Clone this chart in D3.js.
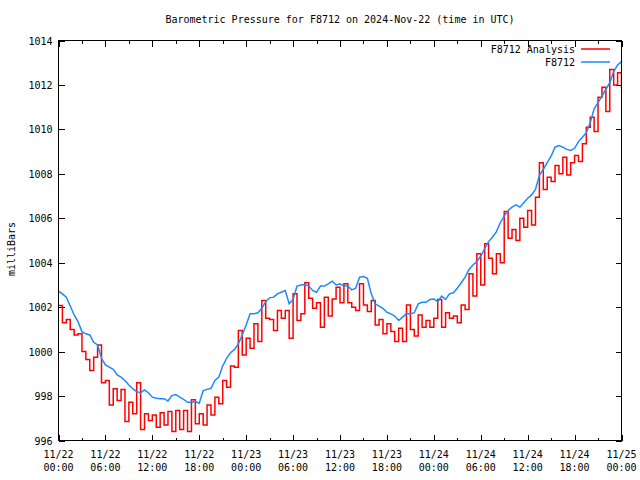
<!DOCTYPE html>
<html><head><meta charset="utf-8">
<script src="https://cdn.jsdelivr.net/npm/d3@7"></script>
<style>body{margin:0;background:#fff}svg{display:block}text{font-family:"DejaVu Sans Mono",monospace;font-size:10px;fill:#000}</style>
</head><body>
<svg id="c" width="640" height="480"></svg>
<script>
// ---- data (half-hourly, starting 2024-11-22 00:00 UTC) ----
const startTime = "2024-11-22T00:00:00Z";
const stepMinutes = 30;
const seriesNames = ["F8712 Analysis", "F8712"];
const analysis = [
1002.07,1001.3,1001.45,1001.0,1000.75,1000.8,1000.0,999.65,999.15,999.75,
1000.3,998.6,998.7,997.6,998.33,997.8,998.3,996.85,997.72,997.2,
998.6,996.5,997.2,996.9,997.15,996.6,997.25,996.7,997.3,996.4,
997.35,996.5,997.35,996.4,997.83,996.75,997.2,996.7,997.6,997.15,
997.95,997.65,998.7,998.4,999.35,999.3,1000.95,999.85,1000.6,1000.15,
1001.25,1000.45,1002.3,1001.5,1001.45,1000.95,1001.85,1001.5,1001.85,1000.6,
1002.6,1001.4,1001.7,1003.1,1002.4,1001.95,1002.2,1001.1,1002.45,1001.6,
1002.37,1002.9,1002.2,1003.05,1002.2,1002.0,1001.85,1003.05,1002.1,1001.8,
1002.3,1001.2,1001.45,1000.8,1001.25,1000.9,1000.45,1001.05,1000.45,1002.1,
1001.0,1000.7,1001.65,1001.1,1001.4,1001.1,1001.5,1002.35,1001.1,1001.75,
1001.5,1001.6,1001.3,1002.1,1001.9,1003.5,1002.5,1004.4,1003.0,1004.85,
1004.2,1003.5,1004.4,1004.0,1006.3,1005.1,1005.5,1005.0,1006.0,1005.6,
1006.35,1005.7,1006.95,1008.5,1007.3,1007.85,1007.65,1008.38,1008.0,1008.75,
1007.95,1008.5,1008.83,1008.55,1009.35,1010.1,1010.55,1009.9,1011.45,1011.9,
1010.8,1012.7,1012.0,1012.55,1011.85
];
const station = [
1002.72,1002.6,1002.45,1002.05,1001.65,1001.35,1000.9,1000.8,1000.75,1000.42,
1000.3,999.7,999.4,999.3,999.2,998.95,998.85,998.7,998.5,998.33,
998.2,998.15,998.28,998.15,997.95,997.9,997.88,997.88,997.78,998.02,
998.07,997.95,997.85,997.72,997.72,997.75,997.68,998.25,998.3,998.35,
998.7,998.85,999.35,999.7,999.95,1000.1,1000.35,1000.75,1001.2,1001.7,
1001.7,1001.75,1001.95,1002.25,1002.42,1002.45,1002.6,1002.67,1002.75,1002.15,
1002.35,1002.95,1003.0,1003.02,1002.95,1002.75,1002.67,1002.95,1002.95,1003.05,
1003.17,1003.0,1003.05,1002.95,1002.95,1002.78,1002.85,1003.35,1003.38,1003.3,
1002.6,1002.15,1002.05,1001.95,1001.77,1001.7,1001.6,1001.4,1001.55,1001.7,
1001.7,1001.75,1002.15,1002.22,1002.22,1002.35,1002.37,1002.25,1002.5,1002.35,
1002.6,1002.65,1002.85,1003.1,1003.35,1003.7,1003.9,1004.05,1004.3,1004.63,
1004.95,1005.15,1005.4,1005.8,1006.1,1006.35,1006.5,1006.6,1006.5,1006.7,
1006.9,1007.05,1007.3,1007.93,1008.2,1008.5,1008.8,1009.2,1009.27,1009.2,
1009.1,1009.05,1009.15,1009.45,1009.65,1009.85,1010.3,1010.93,1011.2,1011.5,
1011.8,1012.1,1012.6,1012.9,1013.05
];
const yTicks = [996, 998, 1000, 1002, 1004, 1006, 1008, 1010, 1012, 1014];
const xTickDates = ["11/22","11/22","11/22","11/22","11/23","11/23","11/23","11/23","11/24","11/24","11/24","11/24","11/25"];
const xTickTimes = ["00:00","06:00","12:00","18:00","00:00","06:00","12:00","18:00","00:00","06:00","12:00","18:00","00:00"];
const titleText = "Barometric Pressure for F8712 on 2024-Nov-22 (time in UTC)";
const yLabel = "milliBars";

// ---- layout ----
const L = 58.5, R = 621.5, T = 40.5, B = 440.5;
const svg = d3.select("#c");
const t0 = new Date(startTime);
const timeAt = i => new Date(t0.getTime() + i * stepMinutes * 60000);
const x = d3.scaleUtc().domain([t0, new Date(t0.getTime() + 72 * 3600000)]).range([L, R]);
const y = d3.scaleLinear().domain([996, 1014]).range([B, T]);

const majorT = xTickTimes.map((_, i) => new Date(t0.getTime() + i * 6 * 3600000));
const minorT = d3.range(12).map(i => new Date(t0.getTime() + (i * 6 + 3) * 3600000));

svg.append("clipPath").attr("id", "clip").append("rect")
  .attr("x", L).attr("y", T).attr("width", R - L).attr("height", B - T);

svg.append("g").attr("transform", `translate(0,${B})`)
  .call(d3.axisBottom(x).tickValues(majorT).tickSizeInner(-6).tickSizeOuter(0).tickFormat(""));
svg.append("g").attr("transform", `translate(0,${B})`)
  .call(d3.axisBottom(x).tickValues(minorT).tickSizeInner(-3).tickSizeOuter(0).tickFormat(""));
svg.append("g").attr("transform", `translate(0,${T})`)
  .call(d3.axisTop(x).tickValues(majorT).tickSizeInner(-6).tickSizeOuter(0).tickFormat(""));
svg.append("g").attr("transform", `translate(0,${T})`)
  .call(d3.axisTop(x).tickValues(minorT).tickSizeInner(-3).tickSizeOuter(0).tickFormat(""));
const gL = svg.append("g").attr("transform", `translate(${L},0)`)
  .call(d3.axisLeft(y).tickValues(yTicks).tickSizeInner(-6).tickSizeOuter(0).tickFormat(d3.format("d")));
svg.append("g").attr("transform", `translate(${R},0)`)
  .call(d3.axisRight(y).tickValues(yTicks).tickSizeInner(-6).tickSizeOuter(0).tickFormat(""));
svg.selectAll(".domain").remove();
svg.selectAll(".tick line").attr("stroke", "#000").attr("shape-rendering", "crispEdges");

gL.selectAll(".tick text").attr("x", -6).attr("dy", "0.35em")
  .style("font-family", "DejaVu Sans Mono").style("font-size", "10px").attr("fill", "#000");

const xl = svg.append("g");
majorT.forEach((d, i) => {
  const t = xl.append("text").attr("text-anchor", "middle").attr("x", x(d));
  t.append("tspan").attr("x", x(d)).attr("y", 458).text(xTickDates[i]);
  t.append("tspan").attr("x", x(d)).attr("y", 471).text(xTickTimes[i]);
});

const stepLine = d3.line().curve(d3.curveStepAfter).x((d, i) => x(timeAt(i))).y(d => y(d));
const linLine = d3.line().x((d, i) => x(timeAt(i))).y(d => y(d));
const plotG = svg.append("g").attr("clip-path", "url(#clip)");
const redColor = "#ff0000", blueColor = "#1a8aff";
plotG.append("path").datum(analysis).attr("d", stepLine)
  .attr("fill", "none").attr("stroke", redColor).attr("stroke-width", 1.5);
plotG.append("path").datum(station).attr("d", linLine)
  .attr("fill", "none").attr("stroke", blueColor).attr("stroke-width", 1.5);

svg.append("rect").attr("x", L).attr("y", T).attr("width", R - L).attr("height", B - T)
  .attr("fill", "none").attr("stroke", "#000").attr("shape-rendering", "crispEdges");

svg.append("text").attr("x", 340).attr("y", 23).attr("text-anchor", "middle").text(titleText);
svg.append("text").attr("transform", "translate(15,249) rotate(-90)").attr("text-anchor", "middle").text(yLabel);

const legColors = [redColor, blueColor];
seriesNames.forEach((n, i) => {
  const yy = 49 + i * 13;
  svg.append("text").attr("x", 575).attr("y", yy + 4).attr("text-anchor", "end").text(n);
  svg.append("line").attr("x1", 581).attr("x2", 610).attr("y1", yy).attr("y2", yy)
    .attr("stroke", legColors[i]).attr("stroke-width", 1.5);
});
</script>
</body></html>
